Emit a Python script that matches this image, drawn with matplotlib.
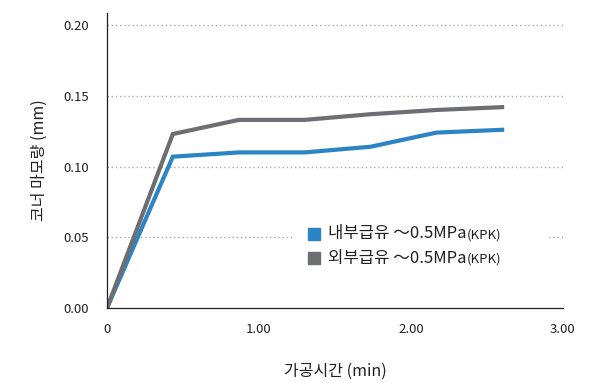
import matplotlib
matplotlib.use("Agg")
import matplotlib.pyplot as plt

plt.rcParams['font.family'] = ['Noto Sans CJK KR', 'DejaVu Sans']

# data
time_min = [0, 0.433, 0.867, 1.30, 1.733, 2.167, 2.60]
internal = [0.0, 0.107, 0.110, 0.110, 0.114, 0.124, 0.126]
external = [0.0, 0.123, 0.133, 0.133, 0.137, 0.140, 0.142]
series_labels = ["내부급유 ～0.5MPa", "외부급유 ～0.5MPa"]
series_suffix = "(KPK)"
series_colors = ["#2a84c6", "#6d6e71"]
xticks = [0, 1, 2, 3]
xtick_labels = ["0", "1.00", "2.00", "3.00"]
yticks = [0.0, 0.05, 0.10, 0.15, 0.20]

fig = plt.figure(figsize=(5.89, 3.83), dpi=100)
ax = fig.add_axes([0.1817, 0.1958, 0.774, 0.770])

ax.plot(time_min, internal, color=series_colors[0], lw=3.0, solid_joinstyle='miter')
ax.plot(time_min, external, color=series_colors[1], lw=3.0, solid_joinstyle='miter')

ax.set_xlim(0, 3)
ax.set_ylim(0, 0.2085)
ax.set_xticks(xticks)
ax.set_xticklabels(xtick_labels)
ax.set_yticks(yticks)
ax.set_yticklabels([f"{v:.2f}" for v in yticks])
ax.tick_params(length=0, labelsize=9.5, colors="#231f20")
ax.tick_params(axis='x', pad=11)
ax.tick_params(axis='y', pad=13)

for y in yticks[1:]:
    ax.axhline(y, color="#aaaaaa", lw=1, ls=(0, (1, 2)), zorder=0)

for s in ["top", "right"]:
    ax.spines[s].set_visible(False)
for s in ["left", "bottom"]:
    ax.spines[s].set_color("#231f20")
    ax.spines[s].set_linewidth(0.9)

ax.set_xlabel("가공시간 (min)", fontsize=11.5, color="#231f20", labelpad=19)
ax.set_ylabel("코너 마모량 (mm)", fontsize=11.5, color="#231f20", labelpad=11)

# legend drawn by hand (white box hides the grid behind it)
ax.add_patch(plt.Rectangle((0.41, 0.12), 0.56, 0.22, transform=ax.transAxes,
                           facecolor="white", edgecolor="none", zorder=1))
for i, (lab, col) in enumerate(zip(series_labels, series_colors)):
    yy = 0.251 - i * 0.082
    ax.plot([0.455], [yy], marker='s', ms=9, color=col, transform=ax.transAxes,
            clip_on=False, zorder=3)
    t = ax.text(0.485, yy, lab, transform=ax.transAxes, fontsize=12,
                va='center', ha='left', color="#231f20", zorder=3)
    ax.annotate(series_suffix, xy=(1, 0.45), xycoords=t, va='center', ha='left',
                fontsize=9.5, color="#231f20", zorder=3)

fig.savefig("out.png", dpi=100)
